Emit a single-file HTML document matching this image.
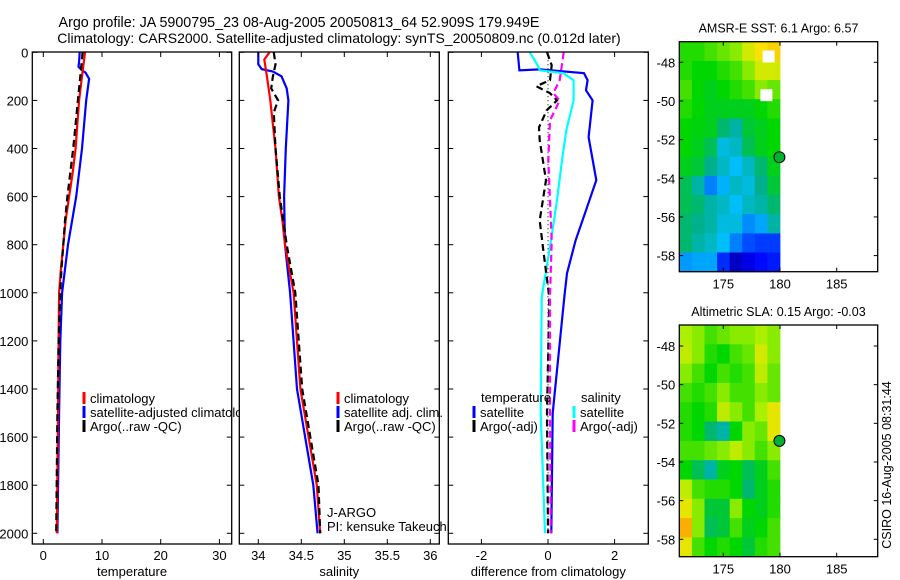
<!DOCTYPE html>
<html><head><meta charset="utf-8">
<style>
html,body{margin:0;padding:0;background:#fff;}
svg{display:block;font-family:"Liberation Sans",sans-serif;}
text{fill:#000;}
</style></head>
<body>
<svg id="fig" width="900" height="580" viewBox="0 0 900 580" xmlns="http://www.w3.org/2000/svg">
<rect width="900" height="580" fill="#fff"/>
<text x="299" y="27" font-size="14.3" text-anchor="middle">Argo profile: JA 5900795_23 08-Aug-2005 20050813_64 52.909S 179.949E</text>
<text x="339" y="43" font-size="14" text-anchor="middle">Climatology: CARS2000. Satellite-adjusted climatology: synTS_20050809.nc (0.012d later)</text>
<g id="layer"></g>
</svg>
<script>
// ---------- profile data (depth in m) ----------
const tempClimDepth = [0,100,200,300,400,500,600,700,800,900,1000,1200,1500,2000];
const tempClim      = [7.1,6.6,6.1,5.8,5.5,5.0,4.4,3.8,3.4,3.0,2.7,2.6,2.5,2.3];
const tempSatDepth  = [0,40,60,75,85,110,200,400,600,800,1000,1200,1500,2000];
const tempSat       = [6.2,6.1,6.0,6.6,7.2,7.8,7.3,6.6,5.6,4.2,3.2,2.9,2.7,2.4];
const tempArgoDepth = [0,100,200,300,400,500,600,700,800,900,1000,1200,1500,2000];
const tempArgo      = [6.7,6.3,5.9,5.5,5.1,4.6,4.1,3.7,3.4,3.1,2.9,2.6,2.4,2.2];

const salClimDepth = [0,30,100,200,300,400,500,600,700,800,1000,1400,1800,2000];
const salClim      = [34.13,34.07,34.10,34.14,34.17,34.20,34.22,34.24,34.28,34.31,34.41,34.49,34.68,34.72];
const salSatDepth  = [0,50,70,80,100,150,200,400,600,800,1000,1400,1800,2000];
const salSat       = [34.00,34.00,34.04,34.17,34.27,34.33,34.35,34.32,34.30,34.31,34.37,34.45,34.64,34.69];
const salArgoDepth = [0,50,100,150,200,250,400,600,800,1000,1400,1800,2000];
const salArgo      = [34.18,34.20,34.17,34.15,34.23,34.18,34.20,34.25,34.33,34.43,34.51,34.70,34.72];

const dTSatDepth  = [0,75,71,87,116,158,200,353,532,657,782,919,1019,1500,2000];
const dTSat       = [-0.91,-0.86,-0.25,1.08,1.19,1.14,1.34,1.22,1.45,1.14,0.83,0.57,0.49,0.14,0.10];
const dSSatDepth  = [0,54,75,87,116,200,324,449,615,782,1019,1500,2000];
const dSSat       = [-0.55,-0.31,-0.25,0.46,0.77,0.77,0.55,0.42,0.27,0.09,-0.19,-0.22,-0.09];
const dTArgoDepth = [0,54,116,141,170,200,241,312,366,532,699,823,1019,1500,2000];
const dTArgo      = [-0.03,0.11,0.06,-0.35,0.06,0.27,-0.04,-0.27,-0.25,-0.06,-0.25,-0.14,0.04,-0.03,0.0];
const dSArgoDepth = [0,116,170,200,283,449,782,1019,1500,2000];
const dSArgo      = [0.47,0.35,0.16,0.35,0.06,0.01,0.11,0.06,0.06,0.08];

const depthTicks = [0,200,400,600,800,1000,1200,1400,1600,1800,2000];
const tempTicks = [0,10,20,30];
const salTicks = [34,34.5,35,35.5,36];
const diffTicks = [-2,0,2];
const latTicks = [-48,-50,-52,-54,-56,-58];
const lonTicks = [175,180,185];

// ---------- map data (colormap fraction 0..1), rows north->south, cols west->east ----------
const sstGrid = [
[.60,.60,.62,.64,.66,.72,.76,.78],
[.60,.58,.58,.60,.62,.66,.72,.72],
[.62,.58,.56,.58,.60,.62,.66,.64],
[.60,.58,.56,.56,.56,.56,.58,.60],
[.58,.57,.56,.50,.46,.54,.56,.58],
[.58,.56,.52,.42,.44,.52,.56,.58],
[.56,.54,.48,.44,.40,.44,.50,.56],
[.52,.46,.30,.38,.44,.42,.48,.54],
[.52,.50,.46,.44,.40,.44,.46,.50],
[.50,.48,.46,.42,.42,.32,.36,.46],
[.50,.46,.44,.40,.30,.24,.22,.22],
[.34,.36,.36,.20,.08,.12,.16,.18]];
const slaGrid = [
[.68,.66,.62,.64,.66,.66,.68,.66],
[.70,.66,.60,.58,.62,.64,.72,.66],
[.66,.62,.58,.62,.60,.62,.70,.64],
[.62,.60,.62,.66,.62,.62,.66,.64],
[.60,.58,.60,.70,.66,.62,.68,.74],
[.60,.58,.50,.46,.58,.66,.64,.74],
[.62,.62,.64,.66,.70,.66,.62,.66],
[.58,.52,.46,.56,.58,.52,.56,.62],
[.70,.62,.60,.60,.58,.50,.56,.60],
[.74,.66,.54,.54,.66,.58,.56,.60],
[.82,.66,.52,.54,.62,.56,.58,.62],
[.74,.62,.58,.60,.58,.54,.60,.62]];
const floatLon = 179.949, floatLat = -52.909;

const NS = "http://www.w3.org/2000/svg";
const layer = document.getElementById('layer');
function mk(tag, attrs, parent){
  const e = document.createElementNS(NS, tag);
  for (const k in attrs) e.setAttribute(k, attrs[k]);
  (parent||layer).appendChild(e);
  return e;
}
const yTop = 52.3, yPer = 0.2405;
const yD = d => yTop + d*yPer;

function line(xs, ds, xf, color, dash, name, g){
  const pts = xs.map((v,i)=> xf(v).toFixed(1)+','+yD(ds[i]).toFixed(1)).join(' ');
  const p = mk('polyline', {points:pts, fill:'none', stroke:color, 'stroke-width':2.2, 'stroke-dasharray':dash||'none'}, g);
  
  
}

function panel(name){
  const g = mk('g', {});
  
  
  return g;
}
function frame(g, x0, x1, xf, ticks, fmt, xlabel, ylabels, name){
  const fr = mk('rect', {x:x0, y:52, width:x1-x0, height:492, fill:'none', stroke:'#000', 'stroke-width':1.3}, g);
  
  
  depthTicks.forEach(d=>{
    const y = yD(d);
    mk('line',{x1:x0,x2:x0+5,y1:y,y2:y,stroke:'#000'},g);
    mk('line',{x1:x1-5,x2:x1,y1:y,y2:y,stroke:'#000'},g);
    if (ylabels){
      const t = mk('text',{x:x0-4,y:y+5,'font-size':13,'text-anchor':'end'},g);
      t.textContent = d;
      
      
    }
  });
  ticks.forEach(v=>{
    const x = xf(v);
    mk('line',{x1:x,x2:x,y1:544,y2:539,stroke:'#000'},g);
    mk('line',{x1:x,x2:x,y1:52,y2:57,stroke:'#000'},g);
    const t = mk('text',{x:x,y:560,'font-size':13,'text-anchor':'middle'},g);
    t.textContent = fmt(v);
    
    
  });
  const xl = mk('text',{x:(x0+x1)/2,y:576,'font-size':13,'text-anchor':'middle'},g);
  xl.textContent = xlabel;
  
  
}
function legendEntry(g, x, y, color, label){
  const m = mk('line',{x1:x,x2:x,y1:y-11,y2:y+1,stroke:color,'stroke-width':3},g);
  
  
  const t = mk('text',{x:x+6,y:y,'font-size':13},g);
  t.textContent = label;
  
  
}

// ---- panel 1 temperature ----
const xT = v => 43.3 + v*5.87;
const g1 = panel('temperature-panel');
line(tempSat, tempSatDepth, xT, '#0000ff', null, 'temp-satellite-line', g1);
line(tempClim, tempClimDepth, xT, '#ff0000', null, 'temp-climatology-line', g1);
line(tempArgo, tempArgoDepth, xT, '#000', '7,4', 'temp-argo-line', g1);
legendEntry(g1, 84, 403, '#ff0000', 'climatology');
legendEntry(g1, 84, 417, '#0000ff', 'satellite-adjusted climatology');
legendEntry(g1, 84, 431, '#000', 'Argo(..raw -QC)');
frame(g1, 32.3, 231.7, xT, tempTicks, v=>String(v), 'temperature', true, 'temperature-panel');

// ---- panel 2 salinity ----
const xS = v => 258.3 + (v-34)*86;
const g2 = panel('salinity-panel');
mk('rect',{x:239.3,y:52,width:200,height:492,fill:'#fff'},g2);
line(salSat, salSatDepth, xS, '#0000ff', null, 'sal-satellite-line', g2);
line(salClim, salClimDepth, xS, '#ff0000', null, 'sal-climatology-line', g2);
line(salArgo, salArgoDepth, xS, '#000', '7,4', 'sal-argo-line', g2);
legendEntry(g2, 338, 403, '#ff0000', 'climatology');
legendEntry(g2, 338, 417, '#0000ff', 'satellite adj. clim.');
legendEntry(g2, 338, 431, '#000', 'Argo(..raw -QC)');
const ja = mk('text',{x:327,y:517,'font-size':13},g2); ja.textContent='J-ARGO';
 
const pi = mk('text',{x:327,y:531,'font-size':13},g2); pi.textContent='PI: kensuke Takeuchi';
 
frame(g2, 239.3, 439.3, xS, salTicks, v=>String(v), 'salinity', false, 'salinity-panel');

// ---- panel 3 difference ----
const xDf = v => 548 + v*33.3;
const g3 = panel('difference-panel');
mk('rect',{x:448.3,y:52,width:200,height:492,fill:'#fff'},g3);
const zl = mk('line',{x1:xDf(0),x2:xDf(0),y1:yD(0),y2:yD(2000),stroke:'#000','stroke-dasharray':'1,3'},g3);
 
line(dTSat, dTSatDepth, xDf, '#0000ff', null, 'diff-temp-satellite-line', g3);
line(dSSat, dSSatDepth, xDf, '#00ffff', null, 'diff-sal-satellite-line', g3);
line(dTArgo, dTArgoDepth, xDf, '#000', '7,4', 'diff-temp-argo-line', g3);
line(dSArgo, dSArgoDepth, xDf, '#ff00ff', '7,4', 'diff-sal-argo-line', g3);
const lt = mk('text',{x:481,y:402,'font-size':13},g3); lt.textContent='temperature';
 
const ls = mk('text',{x:581,y:402,'font-size':13},g3); ls.textContent='salinity';
 
legendEntry(g3, 474, 417, '#0000ff', 'satellite');
legendEntry(g3, 474, 431, '#000', 'Argo(-adj)');
legendEntry(g3, 574, 417, '#00ffff', 'satellite');
legendEntry(g3, 574, 431, '#ff00ff', 'Argo(-adj)');
frame(g3, 448.3, 648.3, xDf, diffTicks, v=>v<0?'-'+Math.abs(v):String(v), 'difference from climatology', false, 'difference-panel');

// ---------- maps ----------
const cmapStops = [
 [0.00,[0,0,130]],[0.15,[0,0,255]],[0.30,[0,128,255]],[0.40,[0,190,250]],
 [0.48,[0,175,140]],[0.58,[0,215,0]],[0.68,[170,240,0]],[0.76,[250,225,0]],
 [0.86,[250,140,0]],[1.00,[220,0,0]]];
function cmap(f){
  f = Math.max(0, Math.min(1, f));
  for (let i=1;i<cmapStops.length;i++){
    const a = cmapStops[i-1], b = cmapStops[i];
    if (f <= b[0]){
      const t = (f-a[0])/(b[0]-a[0]);
      const c = a[1].map((v,k)=>Math.round(v+(b[1][k]-v)*t));
      return 'rgb('+c.join(',')+')';
    }
  }
  return 'rgb(220,0,0)';
}
const mapX0 = 679.3, mapX1 = 877.7;
const lonX = lon => 723.3 + (lon-175)*11.34;
function map(name, top, bottom, lat48y, grid, title){
  const g = mk('g',{});
  
  
  const latY = lat => lat48y + (-48 - lat)*19.33;
  const latTop = -48 + (lat48y-top)/19.33;
  const latBot = -48 - (bottom-lat48y)/19.33;
  const lonW = 171.12, lonE = 180;
  const nr = grid.length, nc = grid[0].length;
  const dLat = (latTop-latBot)/nr, dLon = (lonE-lonW)/nc;
  grid.forEach((row,i)=>row.forEach((v,j)=>{
    const x = lonX(lonW + j*dLon), x2 = lonX(lonW+(j+1)*dLon);
    const y = latY(latTop - i*dLat), y2 = latY(latTop-(i+1)*dLat);
    const r = mk('rect',{x:x.toFixed(1),y:y.toFixed(1),width:(x2-x+0.4).toFixed(1),height:(y2-y+0.4).toFixed(1),fill:cmap(v)},g);
    
    
  }));
  const c = mk('circle',{cx:lonX(floatLon),cy:latY(floatLat),r:5.5,fill:'#00b030',stroke:'#000','stroke-width':1},g);
  
  
  const f = mk('rect',{x:mapX0,y:top,width:mapX1-mapX0,height:bottom-top,fill:'none',stroke:'#000','stroke-width':1.3},g);
  
  
  latTicks.forEach(l=>{
    const y = latY(l);
    mk('line',{x1:mapX0,x2:mapX0+4,y1:y,y2:y,stroke:'#000'},g);
    mk('line',{x1:mapX1-4,x2:mapX1,y1:y,y2:y,stroke:'#000'},g);
    const t = mk('text',{x:mapX0-4,y:y+5,'font-size':13,'text-anchor':'end'},g);
    t.textContent = String(l);
    
    
  });
  lonTicks.forEach(l=>{
    const x = lonX(l);
    mk('line',{x1:x,x2:x,y1:bottom,y2:bottom-4,stroke:'#000'},g);
    mk('line',{x1:x,x2:x,y1:top,y2:top+4,stroke:'#000'},g);
    const t = mk('text',{x:x,y:bottom+17,'font-size':13,'text-anchor':'middle'},g);
    t.textContent = String(l);
    
    
  });
  const tt = mk('text',{x:(mapX0+mapX1)/2,y:top-9,'font-size':12.5,'text-anchor':'middle'},g);
  tt.textContent = title;
  
  
  return {g, latY};
}
const m1 = map('sst-map', 41.7, 271.7, 62.3, sstGrid, 'AMSR-E SST: 6.1  Argo: 6.57');
[[179.0,-47.7],[178.8,-49.7]].forEach(p=>{
  const r = mk('rect',{x:lonX(p[0])-6,y:m1.latY(p[1])-6,width:12,height:12,fill:'#fff'},m1.g);
  
  
});
const m2 = map('sla-map', 325, 556.7, 346, slaGrid, 'Altimetric SLA: 0.15  Argo: -0.03');

const stamp = mk('text',{x:0,y:0,'font-size':12.5,'text-anchor':'middle',transform:'translate(891,465) rotate(-90)'});
stamp.textContent = 'CSIRO 16-Aug-2005 08:31:44';


</script>
</body></html>
